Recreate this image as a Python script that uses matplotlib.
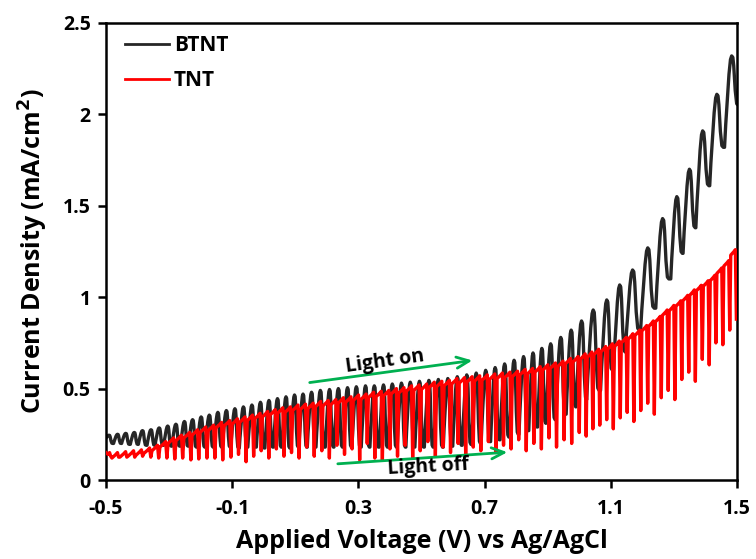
import numpy as np
import matplotlib
matplotlib.use("Agg")
import matplotlib.pyplot as plt

plt.rcParams['font.family'] = ['Open Sans', 'DejaVu Sans']
plt.rcParams['axes.unicode_minus'] = False

# ---------------- data ----------------
# BTNT: voltage of each light-on peak, peak current, following dark trough current
btnt_peak_v = [-0.490, -0.463, -0.437, -0.410, -0.384, -0.357, -0.331, -0.304, -0.278, -0.251,
               -0.225, -0.198, -0.172, -0.145, -0.118, -0.091, -0.064, -0.037, -0.010, 0.017,
               0.044, 0.071, 0.098, 0.125, 0.152, 0.180, 0.209, 0.237, 0.266, 0.294,
               0.323, 0.351, 0.380, 0.408, 0.437, 0.465, 0.494, 0.524, 0.554, 0.584,
               0.614, 0.644, 0.674, 0.704, 0.734, 0.764, 0.794, 0.824, 0.854, 0.882,
               0.910, 0.942, 0.975, 1.008, 1.045, 1.088, 1.129, 1.170, 1.218, 1.265,
               1.310, 1.350, 1.392, 1.437, 1.484]
btnt_on = [0.245, 0.250, 0.255, 0.260, 0.270, 0.275, 0.285, 0.295, 0.305, 0.320,
           0.330, 0.345, 0.355, 0.370, 0.380, 0.390, 0.400, 0.410, 0.425, 0.435,
           0.445, 0.455, 0.465, 0.470, 0.480, 0.490, 0.495, 0.500, 0.505, 0.510,
           0.515, 0.515, 0.520, 0.525, 0.530, 0.535, 0.540, 0.545, 0.550, 0.555,
           0.565, 0.575, 0.585, 0.600, 0.615, 0.635, 0.655, 0.675, 0.695, 0.720,
           0.745, 0.780, 0.820, 0.870, 0.930, 0.985, 1.067, 1.149, 1.270, 1.430,
           1.550, 1.700, 1.910, 2.110, 2.320]
btnt_off = [0.200, 0.200, 0.195, 0.195, 0.190, 0.190, 0.190, 0.185, 0.185, 0.185,
            0.180, 0.180, 0.180, 0.180, 0.180, 0.175, 0.180, 0.180, 0.175, 0.180,
            0.180, 0.175, 0.180, 0.180, 0.180, 0.180, 0.180, 0.180, 0.180, 0.180,
            0.180, 0.180, 0.180, 0.180, 0.180, 0.180, 0.180, 0.180, 0.180, 0.185,
            0.190, 0.195, 0.200, 0.210, 0.220, 0.235, 0.250, 0.270, 0.290, 0.310,
            0.330, 0.360, 0.400, 0.440, 0.490, 0.600, 0.700, 0.820, 0.940, 1.100,
            1.240, 1.380, 1.610, 1.820, 2.050]

# TNT: voltage of each light-off dip, current just before the dip, dip current
tnt_dip_v = [-0.485, -0.460, -0.434, -0.409, -0.384, -0.358, -0.333, -0.307, -0.282, -0.257,
             -0.231, -0.206, -0.180, -0.155, -0.130, -0.104, -0.080, -0.056, -0.032, -0.008,
             0.016, 0.040, 0.064, 0.088, 0.112, 0.136, 0.160, 0.184, 0.208, 0.232,
             0.256, 0.280, 0.304, 0.328, 0.352, 0.376, 0.400, 0.424, 0.448, 0.472,
             0.496, 0.520, 0.544, 0.568, 0.592, 0.616, 0.640, 0.664, 0.688, 0.712,
             0.736, 0.760, 0.784, 0.808, 0.832, 0.856, 0.880, 0.904, 0.928, 0.952,
             0.976, 1.000, 1.022, 1.043, 1.065, 1.087, 1.108, 1.130, 1.152, 1.173,
             1.195, 1.217, 1.238, 1.260, 1.282, 1.303, 1.325, 1.347, 1.368, 1.390,
             1.412, 1.433, 1.455, 1.477, 1.498]
tnt_on = [0.150, 0.150, 0.155, 0.160, 0.165, 0.175, 0.190, 0.210, 0.230, 0.245,
          0.260, 0.275, 0.290, 0.300, 0.315, 0.325, 0.335, 0.345, 0.355, 0.365,
          0.375, 0.385, 0.395, 0.400, 0.410, 0.415, 0.420, 0.430, 0.435, 0.440,
          0.450, 0.455, 0.465, 0.470, 0.480, 0.485, 0.490, 0.500, 0.505, 0.515,
          0.520, 0.525, 0.535, 0.540, 0.545, 0.555, 0.560, 0.565, 0.570, 0.575,
          0.580, 0.585, 0.590, 0.595, 0.605, 0.610, 0.620, 0.630, 0.640, 0.650,
          0.665, 0.675, 0.690, 0.700, 0.715, 0.730, 0.745, 0.760, 0.780, 0.800,
          0.820, 0.845, 0.870, 0.895, 0.930, 0.955, 0.980, 1.010, 1.040, 1.065,
          1.090, 1.120, 1.160, 1.200, 1.260]
tnt_off = [0.130, 0.125, 0.125, 0.125, 0.130, 0.125, 0.120, 0.120, 0.115, 0.120,
           0.110, 0.115, 0.120, 0.120, 0.110, 0.125, 0.140, 0.100, 0.130, 0.160,
           0.120, 0.170, 0.130, 0.150, 0.120, 0.180, 0.130, 0.160, 0.120, 0.190,
           0.140, 0.170, 0.110, 0.200, 0.120, 0.110, 0.170, 0.130, 0.190, 0.120,
           0.160, 0.210, 0.130, 0.180, 0.150, 0.200, 0.140, 0.180, 0.160, 0.210,
           0.150, 0.190, 0.170, 0.220, 0.160, 0.200, 0.170, 0.230, 0.180, 0.220,
           0.200, 0.260, 0.240, 0.280, 0.300, 0.330, 0.280, 0.340, 0.370, 0.320,
           0.380, 0.420, 0.360, 0.450, 0.490, 0.440, 0.550, 0.590, 0.540, 0.660,
           0.630, 0.750, 0.740, 0.820, 0.880]

series_names = ["BTNT", "TNT"]
x_ticks = [-0.5, -0.1, 0.3, 0.7, 1.1, 1.5]
y_ticks = [0, 0.5, 1, 1.5, 2, 2.5]
y_tick_labels = ["0", "0.5", "1", "1.5", "2", "2.5"]


def btnt_wave(pv, on, off):
    xs, ys = [], []
    n = len(pv)
    for k in range(n):
        P = (pv[k + 1] - pv[k]) if k < n - 1 else (pv[k] - pv[k - 1])
        prev_off = off[k - 1] if k > 0 else 0.22
        a = on[k] - prev_off
        b = on[k] - off[k]
        pts = [(-0.5, prev_off), (-0.42, prev_off + 0.25 * a), (-0.2, prev_off + 0.8 * a),
               (-0.1, on[k] - 0.04 * a), (-0.02, on[k]), (0.06, on[k] - 0.03 * b),
               (0.12, on[k] - 0.2 * b), (0.22, off[k] + 0.3 * b), (0.32, off[k] + 0.03 * b),
               (0.42, off[k])]
        for f, y in pts:
            xs.append(pv[k] + f * P)
            ys.append(y)
    return xs, ys


def tnt_wave(dv, on, off):
    xs, ys = [-0.5], [on[0]]
    n = len(dv)
    for k in range(n):
        P = (dv[k + 1] - dv[k]) if k < n - 1 else (dv[k] - dv[k - 1])
        Pp = (dv[k] - dv[k - 1]) if k > 0 else P
        xs += [dv[k] - 0.35 * Pp, dv[k] - 0.15 * Pp, dv[k]]
        ys += [on[k] - 0.01, on[k], off[k]]
        if k < n - 1:
            xs += [dv[k] + 0.15 * P]
            ys += [on[k + 1] - 0.03]
    return xs, ys


fig = plt.figure(figsize=(7.56, 5.59), dpi=100)
ax = fig.add_axes([106 / 756, 1 - 480 / 559, (737 - 106) / 756, (480 - 23) / 559])

bx, by = btnt_wave(btnt_peak_v, btnt_on, btnt_off)
tx, ty = tnt_wave(tnt_dip_v, tnt_on, tnt_off)
ax.plot(bx, by, color='#262626', lw=2.4, solid_joinstyle='round', label=series_names[0], zorder=2)
ax.plot(tx, ty, color='#ff0000', lw=2.4, solid_joinstyle='round', label=series_names[1], zorder=3)

ax.set_xlim(-0.5, 1.5)
ax.set_ylim(0, 2.5)
ax.set_xticks(x_ticks)
ax.set_xticklabels([f"{v:.1f}" for v in x_ticks])
ax.set_yticks(y_ticks)
ax.set_yticklabels(y_tick_labels)
for s in ax.spines.values():
    s.set_linewidth(1.8)
ax.tick_params(axis='both', direction='out', length=6, width=1.8, labelsize=14, pad=5)
ax.tick_params(axis='x', top=False, pad=8)
ax.tick_params(axis='y', right=False)
for lab in ax.get_xticklabels() + ax.get_yticklabels():
    lab.set_fontweight('bold')

ax.set_xlabel("Applied Voltage (V) vs Ag/AgCl", fontsize=18, fontweight='bold', labelpad=7)
ax.set_ylabel("Current Density (mA/cm$^\\mathbf{2}$)", fontsize=18, fontweight='bold', labelpad=9)

leg = ax.legend(loc='upper left', bbox_to_anchor=(0.0, 1.015), frameon=False,
                prop={'weight': 'bold', 'size': 15}, handlelength=2.1, handletextpad=0.25,
                labelspacing=0.68)
for h in leg.legend_handles:
    h.set_linewidth(2.0)

green = '#00B050'
ax.annotate("", xy=(0.670, 0.656), xytext=(0.137, 0.531),
            arrowprops=dict(arrowstyle='->,head_length=0.9,head_width=0.4', color=green, lw=2))
ax.annotate("", xy=(0.781, 0.153), xytext=(0.226, 0.0875),
            arrowprops=dict(arrowstyle='->,head_length=0.9,head_width=0.4', color=green, lw=2))
ax.text(0.384, 0.648, "Light on", fontsize=14, fontweight='bold', rotation=8,
        ha='center', va='center', zorder=5)
ax.text(0.52, 0.072, "Light off", fontsize=14, fontweight='bold', rotation=3,
        ha='center', va='center', zorder=5)

fig.savefig("out.png", dpi=100)
